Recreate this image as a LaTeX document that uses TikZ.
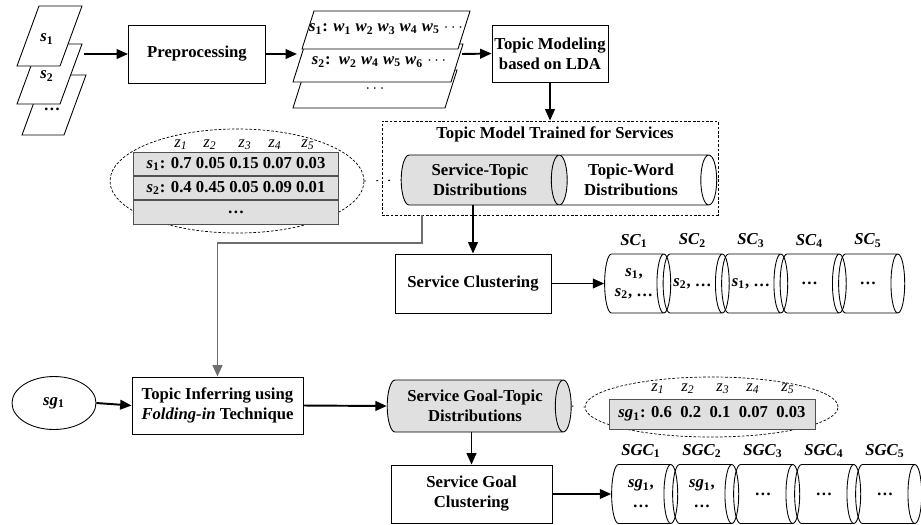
\documentclass[tikz,border=0pt]{standalone}
\usepackage{fontspec}
\setmainfont{Liberation Serif}
\usetikzlibrary{shapes.geometric, arrows.meta, positioning}
\definecolor{shade-grey}{HTML}{E0E0E0}
\definecolor{route-grey}{HTML}{6E6E6E}
\definecolor{edge-grey}{HTML}{505050}
\newcommand{\ix}[2]{\textit{#1}\textsubscript{#2}}
\newcommand{\slot}[1]{\parbox[c][1.1cm][c]{0.9cm}{\centering #1}}

\begin{document}
\begin{tikzpicture}[x=0.2mm, y=-0.2mm, line width=0.5pt,
  every node/.style={font=\fontsize{9.5}{11.4}\selectfont\bfseries, align=center},
  proc/.style={draw, inner sep=0pt},
  page/.style={draw, fill=white},
  cyl/.style={draw, cylinder, shape aspect=0.5, inner sep=0pt},
  holder/.style={cyl, shape aspect=0.25, minimum width=1.18cm, minimum height=1.26cm},
  cell/.style={draw=edge-grey, fill=shade-grey, inner sep=0pt,
    minimum width=4.1cm, minimum height=0.46cm},
  zlab/.style={font=\fontsize{9.5}{11}\selectfont\itshape},
  halo/.style={draw, ellipse, dash pattern=on 1.5pt off 1pt, line width=0.4pt},
  flow/.style={-{Triangle[length=6.5pt, width=5.5pt]}, line width=1.1pt},
  back/.style={flow, draw=route-grey},
  link/.style={dash pattern=on 1pt off 5.8pt}]
  \useasboundingbox (0,0) rectangle (921,524);

  % services and preprocessing
  \draw[page] (44,75) -- (86,75) -- (64,135) -- (22,135) -- cycle;
  \draw[page] (39,44) -- (82,44) -- (60,104) -- (17,104) -- cycle;
  \draw[page] (39,6) -- (82,6) -- (60,66) -- (17,66) -- cycle;
  \node (s1) at (47,39) {\ix{s}{1}};
  \node (s2) at (47,76) {\ix{s}{2}};
  \node (s3) at (52,109) {\dots};
  \coordinate (stack) at (84,54);
  \node[proc, minimum width=2.74cm, minimum height=1.16cm] (prep) at (197,54) {Preprocessing};
  \draw[page] (305,70) -- (457,70) -- (445,108) -- (293,108) -- cycle;
  \draw[page] (305,44) -- (463,44) -- (451,82) -- (293,82) -- cycle;
  \draw[page] (314,11) -- (470,11) -- (458,49) -- (302,49) -- cycle;
  \node (w1) at (386,29) {\ix{s}{1}: \ix{w}{1} \ix{w}{2} \ix{w}{3} \ix{w}{4} \ix{w}{5} $\cdots$};
  \node (w2) at (379,62) {\ix{s}{2}:\ \ \ix{w}{2} \ix{w}{4} \ix{w}{5} \ix{w}{6} $\cdots$};
  \node (w3) at (375,89) {$\cdots$};
  \coordinate (docs-in) at (297,54);
  \coordinate (docs-out) at (462,54);
  \node[proc, minimum width=2.32cm, minimum height=1.14cm] (lda) at (550,53.5) {Topic Modeling\\based on LDA};

  % trained model
  \node[draw, dash pattern=on 1.5pt off 1pt, minimum width=6.72cm, minimum height=1.88cm] (trained) at (550,168) {};
  \node (title) at (555,134) {Topic Model Trained for Services};
  \node[cyl, minimum width=1cm, minimum height=3.26cm] (tw) at (631,180) {Topic-Word\\Distributions};
  \node[cyl, fill=shade-grey, minimum width=1cm, minimum height=3.32cm] (st) at (480,180) {Service-Topic\\Distributions};

  % service-topic table
  \node[halo, minimum width=5.08cm, minimum height=2.08cm] (stab) at (237,181) {};
  \node[cell] (row1) at (236,164) {\ix{s}{1}: 0.7 0.05 0.15 0.07 0.03};
  \node[cell, below=0pt of row1] (row2) {\ix{s}{2}: 0.4 0.45 0.05 0.09 0.01};
  \node[cell, below=0pt of row2, minimum height=0.48cm] (row3) {\dots};
  \node[zlab] (z1) at (181,145) {z\textsubscript{1}};
  \node[zlab] (z2) at (210,145) {z\textsubscript{2}};
  \node[zlab] (z3) at (245,145) {z\textsubscript{3}};
  \node[zlab] (z4) at (275,145) {z\textsubscript{4}};
  \node[zlab] (z5) at (308,145) {z\textsubscript{5}};

  % service clusters
  \node[proc, minimum width=3.12cm, minimum height=1.18cm] (svcclu) at (473,283.5) {Service Clustering};
  \node[holder, label={[label distance=0pt]above:\ix{SC}{1}}] (sc1) at (634,283.5) {\slot{\ix{s}{1},\\\ix{s}{2}, \dots}};
  \node[holder, label={[label distance=0pt]above:\ix{SC}{2}}] (sc2) at (692.5,283.5) {\slot{\ix{s}{2}, \dots}};
  \node[holder, label={[label distance=0pt]above:\ix{SC}{3}}] (sc3) at (751,283.5) {\slot{\ix{s}{1}, \dots}};
  \node[holder, label={[label distance=0pt]above:\ix{SC}{4}}] (sc4) at (809.5,283.5) {\slot{\dots}};
  \node[holder, label={[label distance=0pt]above:\ix{SC}{5}}] (sc5) at (868,283.5) {\slot{\dots}};

  % service goal
  \node[ellipse, draw, minimum width=1.68cm, minimum height=1.06cm] (sg) at (54,403) {\ix{sg}{1}};
  \node[proc, minimum width=3.42cm, minimum height=1.14cm] (infer) at (217.5,405.5) {Topic Inferring using\\\textit{Folding-in} Technique};
  \node[cyl, fill=shade-grey, minimum width=1.04cm, minimum height=3.68cm] (goal) at (475,406) {Service Goal-Topic\\Distributions};
  \node[halo, minimum width=5.06cm, minimum height=1.2cm] (gtab) at (711.5,407) {};
  \node[cell, minimum width=4.12cm, minimum height=0.6cm] (grow) at (712,414) {\ix{sg}{1}: 0.6\ \ 0.2\ \ 0.1\ \ 0.07\ \ 0.03};
  \node[zlab] (gz1) at (658,389) {z\textsubscript{1}};
  \node[zlab] (gz2) at (688,389) {z\textsubscript{2}};
  \node[zlab] (gz3) at (723,389) {z\textsubscript{3}};
  \node[zlab] (gz4) at (753,389) {z\textsubscript{4}};
  \node[zlab] (gz5) at (788,389) {z\textsubscript{5}};
  \node[proc, minimum width=3.22cm, minimum height=1.16cm] (goalclu) at (471.5,494) {Service Goal\\Clustering};
  \node[holder, label={[label distance=0pt]above:\ix{SGC}{1}}] (sgc1) at (641,494) {\slot{\ix{sg}{1},\\\dots}};
  \node[holder, label={[label distance=0pt]above:\ix{SGC}{2}}] (sgc2) at (702,494) {\slot{\ix{sg}{1},\\\dots}};
  \node[holder, label={[label distance=0pt]above:\ix{SGC}{3}}] (sgc3) at (763,494) {\slot{\dots}};
  \node[holder, label={[label distance=0pt]above:\ix{SGC}{4}}] (sgc4) at (824,494) {\slot{\dots}};
  \node[holder, label={[label distance=0pt]above:\ix{SGC}{5}}] (sgc5) at (885,494) {\slot{\dots}};

  % connectors
  \draw[flow] (stack) -- (prep.west);
  \draw[flow] (prep.east) -- (docs-in);
  \draw[flow] (docs-out) -- (lda.west);
  \draw[flow] (lda.south) -- (trained.north -| lda.south);
  \draw[link] (stab.east) -- (st.west);
  \draw[back] ([xshift=0.8cm]trained.south west) -- ++(0,28) -| (infer.north);
  \draw[flow] (svcclu.north |- st.south) -- (svcclu.north);
  \draw[flow] (svcclu.east) -- (sc1.west);
  \draw[flow] (sg.east) -- (infer.west);
  \draw[flow] (infer.east) -- (goal.west);
  \draw[link] (goal.east) -- (gtab.west);
  \draw[flow] (goalclu.north |- goal.south) -- (goalclu.north);
  \draw[flow] (goalclu.east) -- (sgc1.west);
\end{tikzpicture}
\end{document}
